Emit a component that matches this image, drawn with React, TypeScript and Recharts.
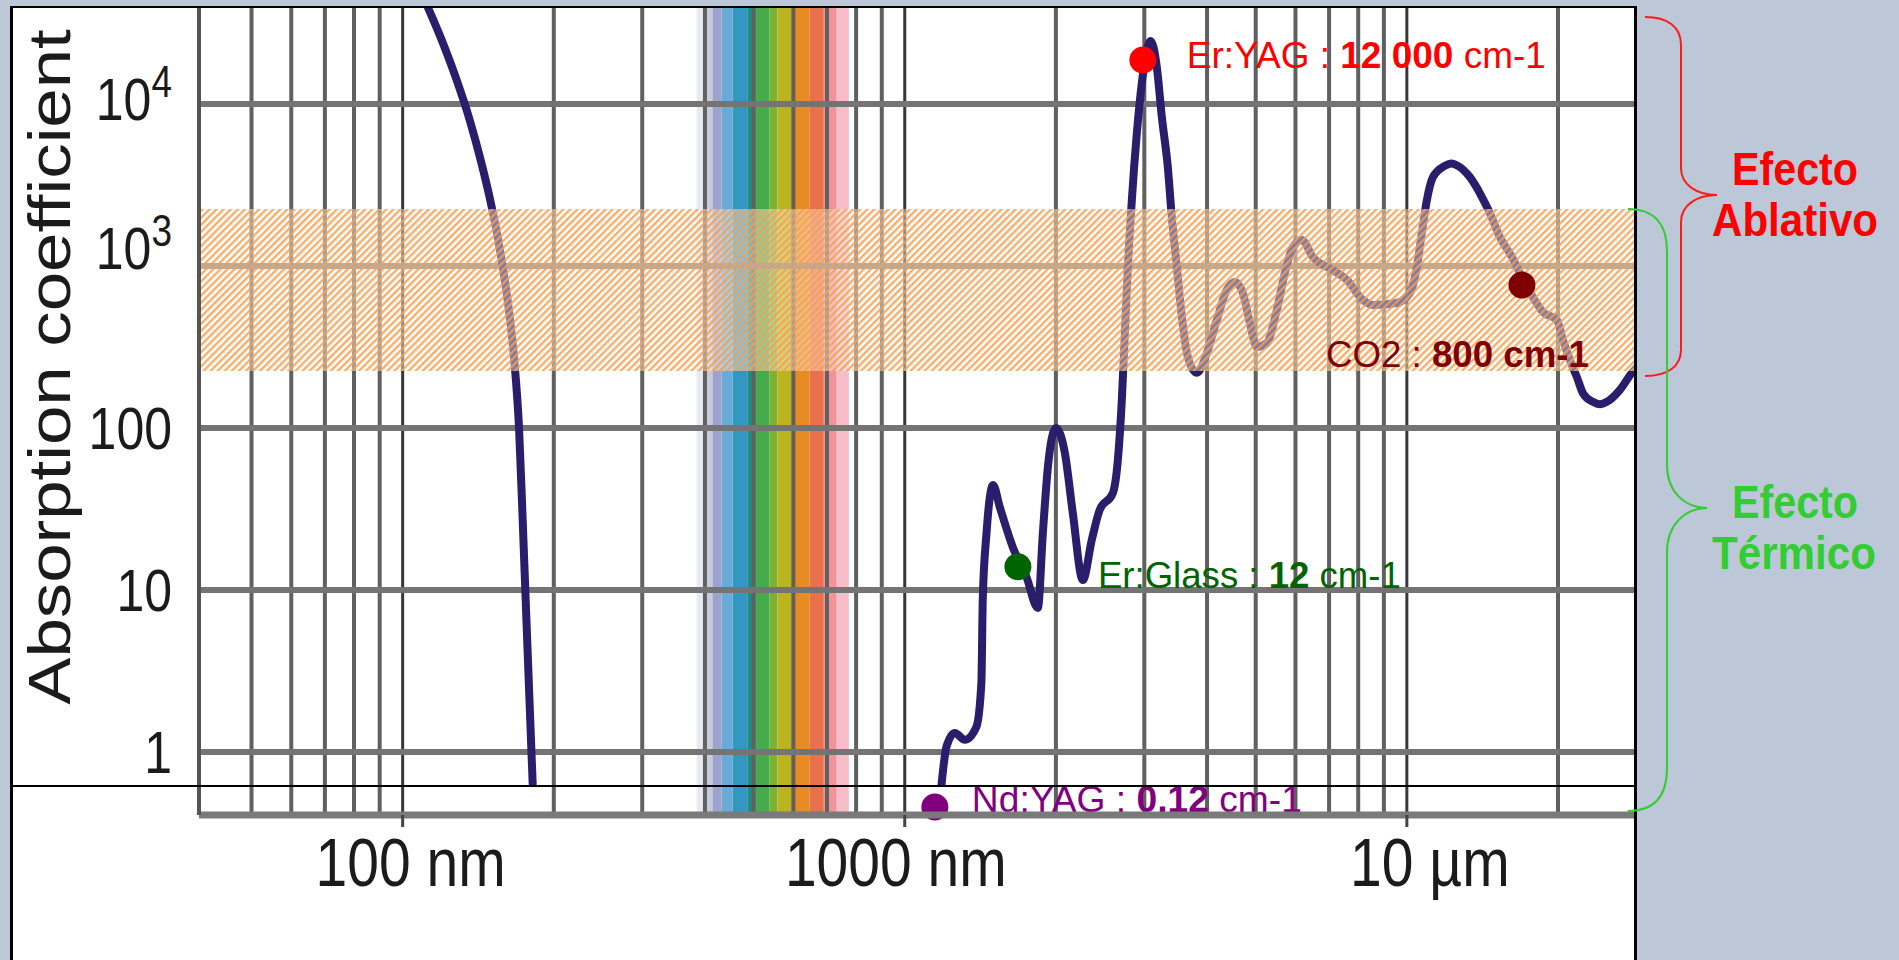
import { LineChart, Line, XAxis, YAxis, ReferenceLine, ReferenceArea, ReferenceDot } from "recharts";

// absorption curve, short-wavelength branch (wavelength nm, absorption cm-1)
const uvWavelength = [110.6, 119.6, 128.1, 136.0, 143.0, 149.4, 155.0, 159.7, 163.7, 166.8, 170.6, 173.4, 176.4, 179.5, 181.6];
const uvAbsorption = [43850, 24830, 14060, 7965, 4512, 2555, 1447, 819, 464, 263, 97.2, 27.0, 6.53, 1.58, 0.617];

// absorption curve, infrared branch
const irWavelength = [
  1183, 1211, 1258, 1317, 1389, 1421, 1430, 1455, 1499, 1546, 1641, 1748, 1841, 1884, 1928, 1999,
  2084, 2161, 2263, 2358, 2445, 2597, 2657, 2706, 2744, 2782, 2833, 2899, 2966, 3035, 3090, 3177,
  3251, 3341, 3403, 3483, 3564, 3663, 3818, 3996, 4183, 4379, 4545, 4714, 4868, 5026, 5262, 5508,
  5715, 5929, 6178, 6496, 7122, 7596, 8173, 8557, 9553, 10140, 10470, 10710, 10960, 11270, 11900,
  12270, 12640, 13350, 14110, 14630, 15320, 16190, 16950, 17820, 18660, 19900, 20460, 21120, 21810,
  22420, 23470, 24230, 25030, 26570, 28070, 29100,
];
const irAbsorption = [
  0.617, 1.08, 1.31, 1.19, 1.43, 2.67, 8.67, 22.5, 44.5, 32.5, 18.4, 12.0, 7.74, 22.5, 57.4, 100,
  70.1, 29.9, 11.5, 20.4, 31.2, 39.7, 63.4, 149, 386, 986, 2550, 6620, 13490, 21540, 24500, 16900,
  8310, 4090, 2005, 986, 484, 274, 219, 290, 464, 711, 797, 681, 445, 316, 335, 535,
  906, 1310, 1446, 1137, 944, 820, 617, 574, 591, 681, 986, 1600, 2550, 3540, 4150,
  4300, 4150, 3540, 2665, 2125, 1510, 1137, 855, 644, 520, 464, 349, 263, 206,
  164, 145, 140, 145, 172, 219, 245,
];

// marked laser lines
const laserNames = ["Er:YAG", "CO2", "Er:Glass", "Nd:YAG"];
const laserValues = ["12 000", "800", "12", "0,12"];
const laserWavelength = [2980, 16950, 1680, 1148];
const laserAbsorption = [18700, 763, 13.9, 0.457];

const xTicks = [100, 1000, 10000];
const xTickText = ["100 nm", "1000 nm", "10 µm"];
const yTicks = [1, 10, 100, 1000, 10000];
const yTickBase = ["1", "10", "100", "10", "10"];
const yTickExp = ["", "", "", "3", "4"];

const minorGrid = [50, 60, 70, 80, 90, 200, 300, 400, 500, 600, 700, 800, 900, 2000, 3000, 4000, 5000, 6000, 7000, 8000, 9000, 20000];
const ablativeBand = [225, 2250];
const spectrumEdges = [385, 400, 414, 432, 454, 487, 505, 538, 558, 598, 647, 690, 732, 774];

const xDomain = [39.3, 28600];
const yDomain = [0.408, 39150];

const spectrumColors = [
  "#e9e9f0", "#c9c9dc", "#9ea3cd", "#6aaad6", "#3497c2", "#1f8d7c", "#45ab4b",
  "#7bb232", "#bcb41f", "#e88b24", "#e8704b", "#f0939a", "#f5bec8",
];

const laserStyle: Record<string, { color: string; dx: number; dy: number; len: number; boldUnit: boolean }> = {
  "Er:YAG": { color: "#ff0000", dx: 44, dy: 8, len: 359, boldUnit: false },
  CO2: { color: "#800000", dx: -196, dy: 82, len: 263, boldUnit: true },
  "Er:Glass": { color: "#006400", dx: 80, dy: 21, len: 303, boldUnit: false },
  "Nd:YAG": { color: "#800080", dx: 37, dy: 5, len: 330, boldUnit: false },
};

const FONT = "'Liberation Sans', Arial, Helvetica, sans-serif";
const INK = "#1b1b1b";
const CURVE = "#2a1e6c";

const uvData = uvWavelength.map((wl, i) => ({ wl, a: uvAbsorption[i] }));
const irData = irWavelength.map((wl, i) => ({ wl, a: irAbsorption[i] }));

const xLabelShift = [8, -9, 23];

const XTick = (props: any) => {
  const { x, payload } = props;
  const i = xTicks.indexOf(payload.value);
  if (i < 0) return null;
  return (
    <g transform={`translate(${x + xLabelShift[i]}, 886) scale(1, 1.2)`}>
      <text x={0} y={0} textAnchor="middle" fontSize={57} fill={INK} fontFamily={FONT}>
        {xTickText[i]}
      </text>
    </g>
  );
};

const YTick = (props: any) => {
  const { y, payload } = props;
  const i = yTicks.indexOf(payload.value);
  if (i < 0) return null;
  const shift = payload.value === 10000 ? 16 : payload.value === 1000 ? 3 : 21;
  return (
    <g transform={`translate(172, ${y + shift}) scale(1, 1.2)`}>
      <text x={0} y={0} textAnchor="end" fontSize={50} fill={INK} fontFamily={FONT}>
        {yTickBase[i]}
        {yTickExp[i] ? (
          <tspan dy={-19} fontSize={37}>
            {yTickExp[i]}
          </tspan>
        ) : null}
      </text>
    </g>
  );
};

const YTitle = () => (
  <g transform="translate(70, 367) scale(1, 1.2) rotate(-90)">
    <text x={0} y={0} textAnchor="middle" fontSize={59} fill={INK} fontFamily={FONT}>
      Absorption coefficient
    </text>
  </g>
);

const laserMark = (name: string, value: string) => (props: any) => {
  const { cx, cy } = props;
  const s = laserStyle[name];
  return (
    <g>
      <circle cx={cx} cy={cy} r={13.5} fill={s.color} />
      <text
        x={cx + s.dx}
        y={cy + s.dy}
        fontSize={37}
        fill={s.color}
        fontFamily={FONT}
        textLength={s.len}
        lengthAdjust="spacingAndGlyphs"
      >
        {name} :{" "}
        {s.boldUnit ? (
          <tspan fontWeight="bold">{value} cm-1</tspan>
        ) : (
          <>
            <tspan fontWeight="bold">{value}</tspan> cm-1
          </>
        )}
      </text>
    </g>
  );
};

export default function App() {
  return (
    <div
      style={{
        position: "absolute",
        left: 0,
        top: 0,
        width: 1899,
        height: 960,
        background: "#bcc8d8",
        overflow: "hidden",
      }}
    >
      <div style={{ position: "absolute", left: 10, top: 6, width: 1627, height: 960, background: "#ffffff" }} />

      <div style={{ position: "absolute", left: 0, top: 0 }}>
        <LineChart width={1899} height={960} margin={{ top: 8, right: 263, left: 0, bottom: 0 }}>
          <XAxis
            type="number"
            dataKey="wl"
            scale="log"
            domain={xDomain}
            allowDataOverflow
            ticks={xTicks}
            interval={0}
            height={145}
            tickSize={12}
            tickLine={{ stroke: "#444", strokeWidth: 3 }}
            axisLine={{ stroke: "#7a7a7a", strokeWidth: 7 }}
            tick={(p: any) => <XTick {...p} />}
          />
          <YAxis
            type="number"
            scale="log"
            domain={yDomain}
            allowDataOverflow
            ticks={yTicks}
            interval={0}
            width={199}
            tickLine={false}
            axisLine={{ stroke: "#555", strokeWidth: 4 }}
            tick={(p: any) => <YTick {...p} />}
            label={{ content: () => <YTitle /> }}
          />

          {/* visible spectrum */}
          {spectrumColors.map((c, i) => (
            <ReferenceArea
              key={"sp" + i}
              x1={spectrumEdges[i]}
              x2={spectrumEdges[i + 1]}
              fill={c}
              fillOpacity={1}
              stroke="none"
              zIndex={50}
            />
          ))}

          {minorGrid.map((v) => (
            <ReferenceLine key={"gx" + v} x={v} stroke="#606060" strokeWidth={4} zIndex={60} />
          ))}
          {xTicks.map((v) => (
            <ReferenceLine key={"gX" + v} x={v} stroke="#383838" strokeWidth={3} zIndex={60} />
          ))}
          {yTicks.map((v) => (
            <ReferenceLine key={"gy" + v} y={v} stroke="#747474" strokeWidth={6} zIndex={60} />
          ))}

          <Line
            data={uvData}
            dataKey="a"
            type="monotone"
            stroke={CURVE}
            strokeWidth={8}
            dot={false}
            activeDot={false}
            isAnimationActive={false}
            strokeLinejoin="round"
            zIndex={70}
          />
          <Line
            data={irData}
            dataKey="a"
            type="monotone"
            stroke={CURVE}
            strokeWidth={8}
            dot={false}
            activeDot={false}
            isAnimationActive={false}
            strokeLinejoin="round"
            zIndex={70}
          />

          {/* ablative absorption band */}
          <ReferenceArea
            y1={ablativeBand[0]}
            y2={ablativeBand[1]}
            fill="url(#ablHatch)"
            fillOpacity={1}
            stroke="none"
            zIndex={80}
          />

          {laserNames.map((n, i) => (
            <ReferenceDot
              key={n}
              x={laserWavelength[i]}
              y={laserAbsorption[i]}
              r={13.5}
              ifOverflow="visible"
              shape={laserMark(n, laserValues[i])}
              zIndex={90}
            />
          ))}
        </LineChart>
      </div>

      <svg
        width={1899}
        height={960}
        style={{ position: "absolute", left: 0, top: 0, pointerEvents: "none" }}
      >
        <defs>
          <pattern id="ablHatch" patternUnits="userSpaceOnUse" width={5} height={5} patternTransform="rotate(45)">
            <rect width={5} height={5} fill="#ffffff" fillOpacity={0.4} />
            <rect width={2.4} height={5} fill="#f5a050" fillOpacity={0.85} />
          </pattern>
        </defs>

        {/* frame */}
        <line x1={11.5} y1={6} x2={11.5} y2={960} stroke="#000" strokeWidth={3} />
        <line x1={10} y1={7} x2={1637} y2={7} stroke="#000" strokeWidth={2} />
        <line x1={1635.5} y1={6} x2={1635.5} y2={960} stroke="#000" strokeWidth={3} />
        <line x1={11} y1={786} x2={1636} y2={786} stroke="#000" strokeWidth={2} />

        {/* braces */}
        <path
          d="M1645,17 C1668,17 1681,27 1681,45 L1681,168 C1681,185 1697,195 1717,195 C1697,195 1681,205 1681,222 L1681,350 C1681,366 1668,376 1645,376"
          fill="none"
          stroke="#ff1a1a"
          strokeWidth={2}
        />
        <path
          d="M1628,209 C1655,209 1667,225 1667,251 L1667,465 C1667,492 1685,508 1707,508 C1685,508 1667,525 1667,552 L1667,768 C1667,795 1655,811 1628,811"
          fill="none"
          stroke="#33cc33"
          strokeWidth={2}
        />

        <g fontFamily={FONT} fontWeight="bold" fontSize={46} textAnchor="middle">
          <text x={1795} y={185} fill="#ff0000" textLength={126} lengthAdjust="spacingAndGlyphs">Efecto</text>
          <text x={1795} y={236} fill="#ff0000" textLength={166} lengthAdjust="spacingAndGlyphs">Ablativo</text>
          <text x={1795} y={518} fill="#33cc33" textLength={126} lengthAdjust="spacingAndGlyphs">Efecto</text>
          <text x={1794} y={569} fill="#33cc33" textLength={164} lengthAdjust="spacingAndGlyphs">Térmico</text>
        </g>
      </svg>
    </div>
  );
}
